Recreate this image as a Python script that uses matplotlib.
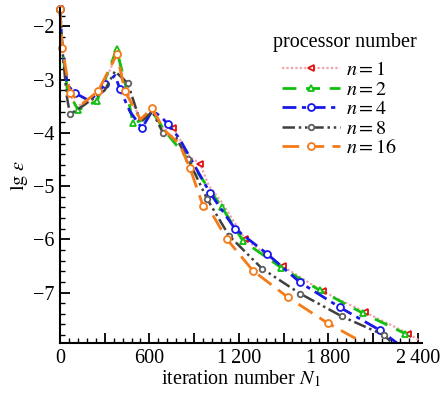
import numpy as np
import matplotlib
matplotlib.use("Agg")
import matplotlib.pyplot as plt
from matplotlib.ticker import MultipleLocator, FuncFormatter

plt.rcParams['font.family'] = ['Liberation Serif', 'DejaVu Serif']
plt.rcParams['mathtext.fontset'] = 'stix'

# iteration number / lg(eps), one pair of lists per processor count
n1_iter = [0, 15, 50, 110, 250, 370, 385, 440, 540, 620, 700, 760, 870, 940, 1000, 1080, 1242, 1497, 1765, 2047, 2336, 2410]
n1_err = [-1.68, -2.4, -3.2, -3.5, -3.35, -2.6, -2.55, -3.15, -3.75, -3.58, -3.95, -3.9, -4.45, -4.58, -5.0, -5.28, -6.0, -6.51, -6.98, -7.37, -7.77, -7.9]
n1_marks = [0, 760, 940, 1242, 1497, 1765, 2047, 2336]

n2_iter = [0, 15, 50, 121, 248, 380, 440, 490, 560, 620, 700, 860, 950, 1087, 1228, 1483, 1745, 2034, 2315, 2383]
n2_err = [-1.68, -2.4, -3.2, -3.57, -3.4, -2.43, -3.1, -3.82, -3.75, -3.6, -3.95, -4.5, -4.85, -5.4, -6.03, -6.53, -6.96, -7.39, -7.77, -7.95]
n2_marks = [0, 121, 248, 380, 490, 1087, 1228, 1483, 1745, 2034, 2315]

n4_iter = [0, 15, 50, 100, 200, 302, 369, 403, 470, 550, 620, 680, 725, 800, 870, 1007, 1174, 1389, 1611, 1879, 2148, 2262]
n4_err = [-1.68, -2.4, -3.1, -3.25, -3.4, -3.09, -2.92, -3.18, -3.6, -3.91, -3.58, -3.7, -3.84, -4.1, -4.45, -5.13, -5.8, -6.27, -6.81, -7.28, -7.71, -7.95]
n4_marks = [0, 100, 302, 403, 550, 725, 1007, 1174, 1389, 1611, 1879, 2148]

n8_iter = [0, 15, 45, 67, 150, 300, 369, 456, 540, 620, 691, 780, 859, 987, 1134, 1356, 1611, 1893, 2174, 2230]
n8_err = [-1.68, -2.4, -3.3, -3.65, -3.5, -3.2, -2.84, -3.07, -3.8, -3.6, -4.0, -4.1, -4.49, -5.24, -5.93, -6.55, -7.02, -7.45, -7.8, -7.95]
n8_marks = [67, 456, 691, 859, 987, 1134, 1356, 1611, 1893, 2174]

n16_iter = [0, 15, 67, 150, 255, 382, 436, 540, 617, 700, 800, 872, 960, 1020, 1121, 1295, 1530, 1799, 2034]
n16_err = [-1.68, -2.4, -3.25, -3.45, -3.22, -2.52, -3.22, -3.75, -3.53, -3.95, -4.2, -4.66, -5.37, -5.52, -6.0, -6.59, -7.09, -7.58, -7.94]
n16_marks = [0, 15, 67, 255, 382, 436, 617, 872, 960, 1121, 1295, 1530, 1799]

labels = ['$n=1$', '$n=2$', '$n=4$', '$n=8$', '$n=16$']

styles = [
    dict(color='#f4a0a8', ls=(0, (1, 1)), lw=1.6, marker='<', mec='#e01010', mfc='white', ms=5),
    dict(color='#10c010', ls=(0, (5, 3.5)), lw=2.0, marker='^', mec='#10c010', mfc='white', ms=5),
    dict(color='#1818e8', ls=(0, (5, 2, 1.5, 2)), lw=2.0, marker='o', mec='#1818e8', mfc='white', ms=5),
    dict(color='#404040', ls=(0, (5, 1.5, 1, 1.5, 1, 1.5)), lw=1.8, marker='o', mec='#606060', mfc='white', ms=4),
    dict(color='#f57a18', ls=(0, (6, 3)), lw=2.0, marker='o', mec='#f57a18', mfc='white', ms=5),
]

series = [(n1_iter, n1_err, n1_marks), (n2_iter, n2_err, n2_marks), (n4_iter, n4_err, n4_marks),
          (n8_iter, n8_err, n8_marks), (n16_iter, n16_err, n16_marks)]

fig = plt.figure(figsize=(4.42, 3.93), dpi=100)
ax = fig.add_axes([0.1357, 0.127, 0.8193, 0.853])

for (x, y, m), lab, st in zip(series, labels, styles):
    x = np.array(x)
    idx = list(np.where(np.isin(x, m))[0])
    ax.plot(x, y, label=lab, markevery=idx, mew=1.3, clip_on=False, **st)

ax.set_xlim(0, 2430)
ax.set_ylim(-7.95, -1.65)
ax.spines['top'].set_visible(False)
ax.spines['right'].set_visible(False)
ax.spines['left'].set_linewidth(1.5)
ax.spines['bottom'].set_linewidth(1.5)

ax.xaxis.set_major_locator(MultipleLocator(300))
ax.xaxis.set_minor_locator(MultipleLocator(60))
ax.yaxis.set_major_locator(MultipleLocator(1))
ax.yaxis.set_minor_locator(MultipleLocator(0.2))


def xfmt(v, pos):
    v = int(round(v))
    if v % 600:
        return ''
    s = str(v)
    if len(s) > 3:
        s = s[:-3] + '\u2009' + s[-3:]
    return s


ax.xaxis.set_major_formatter(FuncFormatter(xfmt))
ax.yaxis.set_major_formatter(FuncFormatter(lambda v, p: '\u2212%d' % abs(round(v))))
ax.tick_params(which='major', direction='in', length=7, width=1.3, labelsize=14.5, pad=4)
ax.tick_params(which='minor', direction='in', length=3.5, width=1.0)

ax.set_xlabel('iteration number $N_1$', fontsize=14.5, labelpad=1)
ax.set_ylabel(r'$\mathrm{lg}\ \varepsilon$', fontsize=14.5, labelpad=2)

# legend title drawn on its own, a bit further from the entries than the default
fig.text(345 / 442, 1 - 43 / 393, 'processor number', fontsize=14.5, ha='center', va='center')
leg = ax.legend(frameon=False, fontsize=14.5, loc='upper left',
                bbox_to_anchor=(282 / 442, 1 - 61 / 393), bbox_transform=fig.transFigure,
                numpoints=1, borderpad=0, borderaxespad=0,
                handlelength=2.9, handletextpad=0.3, labelspacing=0.02)

fig.savefig('out.png', dpi=100)
